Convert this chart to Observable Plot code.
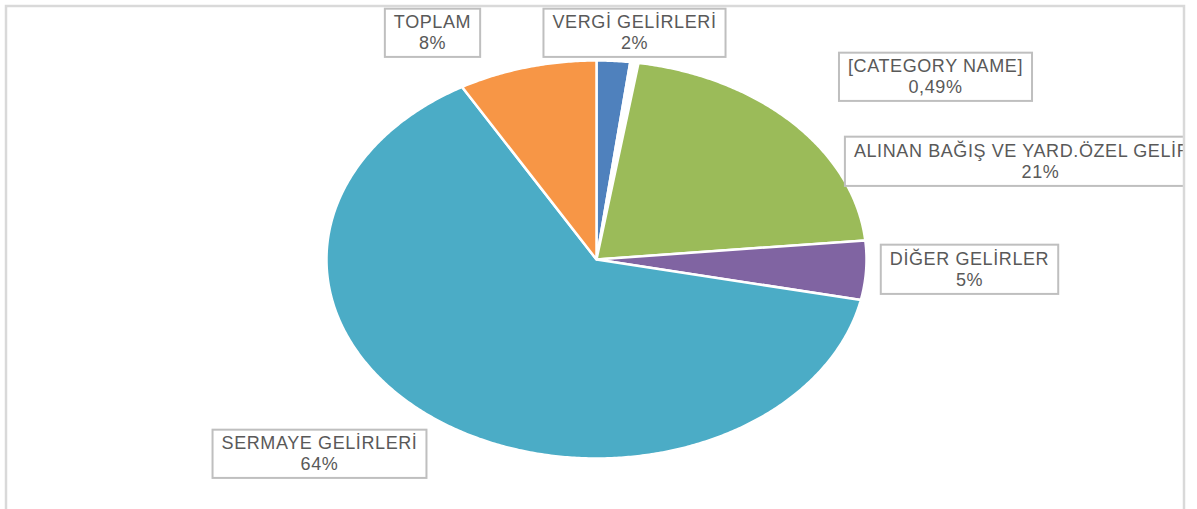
<!DOCTYPE html>
<html><head><meta charset="utf-8">
<script src="https://cdn.jsdelivr.net/npm/d3@7"></script>
<script src="https://cdn.jsdelivr.net/npm/@observablehq/plot@0.6"></script>
<style>body{margin:0;background:#fff} #chart{width:1197px;height:509px}</style>
</head><body><div id="chart"></div>
<script>
// ---- data ----
const categories = ["VERGİ GELİRLERİ", "[CATEGORY NAME]", "ALINAN BAĞIŞ VE YARD.ÖZEL GELİRLER", "DİĞER GELİRLER", "SERMAYE GELİRLERİ", "TOPLAM"];
const shares = [2.0, 0.49, 21.0, 4.8, 63.5, 8.3];
const shareLabels = ["2%", "0,49%", "21%", "5%", "64%", "8%"];
// ---- style / layout ----
const sliceColors = ["#4F81BD", "#FFFFFF", "#9BBB59", "#8064A2", "#4BACC6", "#F79646"];
const labelCenterX = [634, 935, 1040, 969, 319, 432];
const labelCenterY = [31, 75, 160, 268, 452, 31];

const W = 1197, H = 509;
const cx = 596, cy = 259, rx = 270, ry = 199;

const total = d3.sum(shares);
let acc = 0;
const points = [];
categories.forEach((name, i) => {
  const t0 = acc / total * 2 * Math.PI;
  acc += shares[i];
  const t1 = acc / total * 2 * Math.PI;
  points.push({name, x: 0, y: 0});
  const n = Math.max(2, Math.ceil((t1 - t0) / (Math.PI / 360)));
  for (let k = 0; k <= n; k++) {
    const t = t0 + (t1 - t0) * k / n;
    points.push({name, x: Math.sin(t), y: Math.cos(t)});
  }
});

const labels = categories.map((name, i) => ({
  text: name + "\n" + shareLabels[i],
  x: (labelCenterX[i] - cx) / rx,
  y: (cy - labelCenterY[i]) / ry
}));

const svg = Plot.plot({
  width: W, height: H, margin: 0,
  style: {background: "white", overflow: "visible"},
  x: {domain: [-1, 1], range: [cx - rx, cx + rx], axis: null},
  y: {domain: [-1, 1], range: [cy + ry, cy - ry], axis: null},
  color: {domain: categories, range: sliceColors},
  marks: [
    Plot.line(points, {x: "x", y: "y", z: "name", fill: "name", stroke: "white", strokeWidth: 2.5, curve: "linear-closed"}),
    Plot.text(labels, {x: "x", y: "y", text: "text", fontSize: 18, lineHeight: 1.18, fill: "#595959", fontFamily: "Liberation Sans"})
  ]
});
document.getElementById("chart").appendChild(svg);

const s = d3.select(svg);
const defs = s.append("defs");
defs.append("clipPath").attr("id", "frameclip").append("rect").attr("x", 0).attr("y", 0).attr("width", 1183).attr("height", H);
const textGroup = s.select('g[aria-label="text"]');
textGroup.attr("clip-path", "url(#frameclip)");
textGroup.selectAll("text").each(function() {
  this.setAttribute("letter-spacing", "0.6px");
  const b = this.getBBox();
  const r = document.createElementNS("http://www.w3.org/2000/svg", "rect");
  const tr = this.getAttribute("transform");
  if (tr) r.setAttribute("transform", tr);
  r.setAttribute("x", b.x - 9);
  r.setAttribute("y", b.y - 3);
  r.setAttribute("width", b.width + 18);
  r.setAttribute("height", b.height + 7);
  r.setAttribute("fill", "white");
  r.setAttribute("stroke", "#BFBFBF");
  r.setAttribute("stroke-width", 2);
  this.parentNode.insertBefore(r, this);
});
s.append("path").attr("d", `M6,${H} V6 H1184 V${H}`).attr("fill", "none").attr("stroke", "#D9D9D9").attr("stroke-width", 2.5);
</script>
</body></html>
